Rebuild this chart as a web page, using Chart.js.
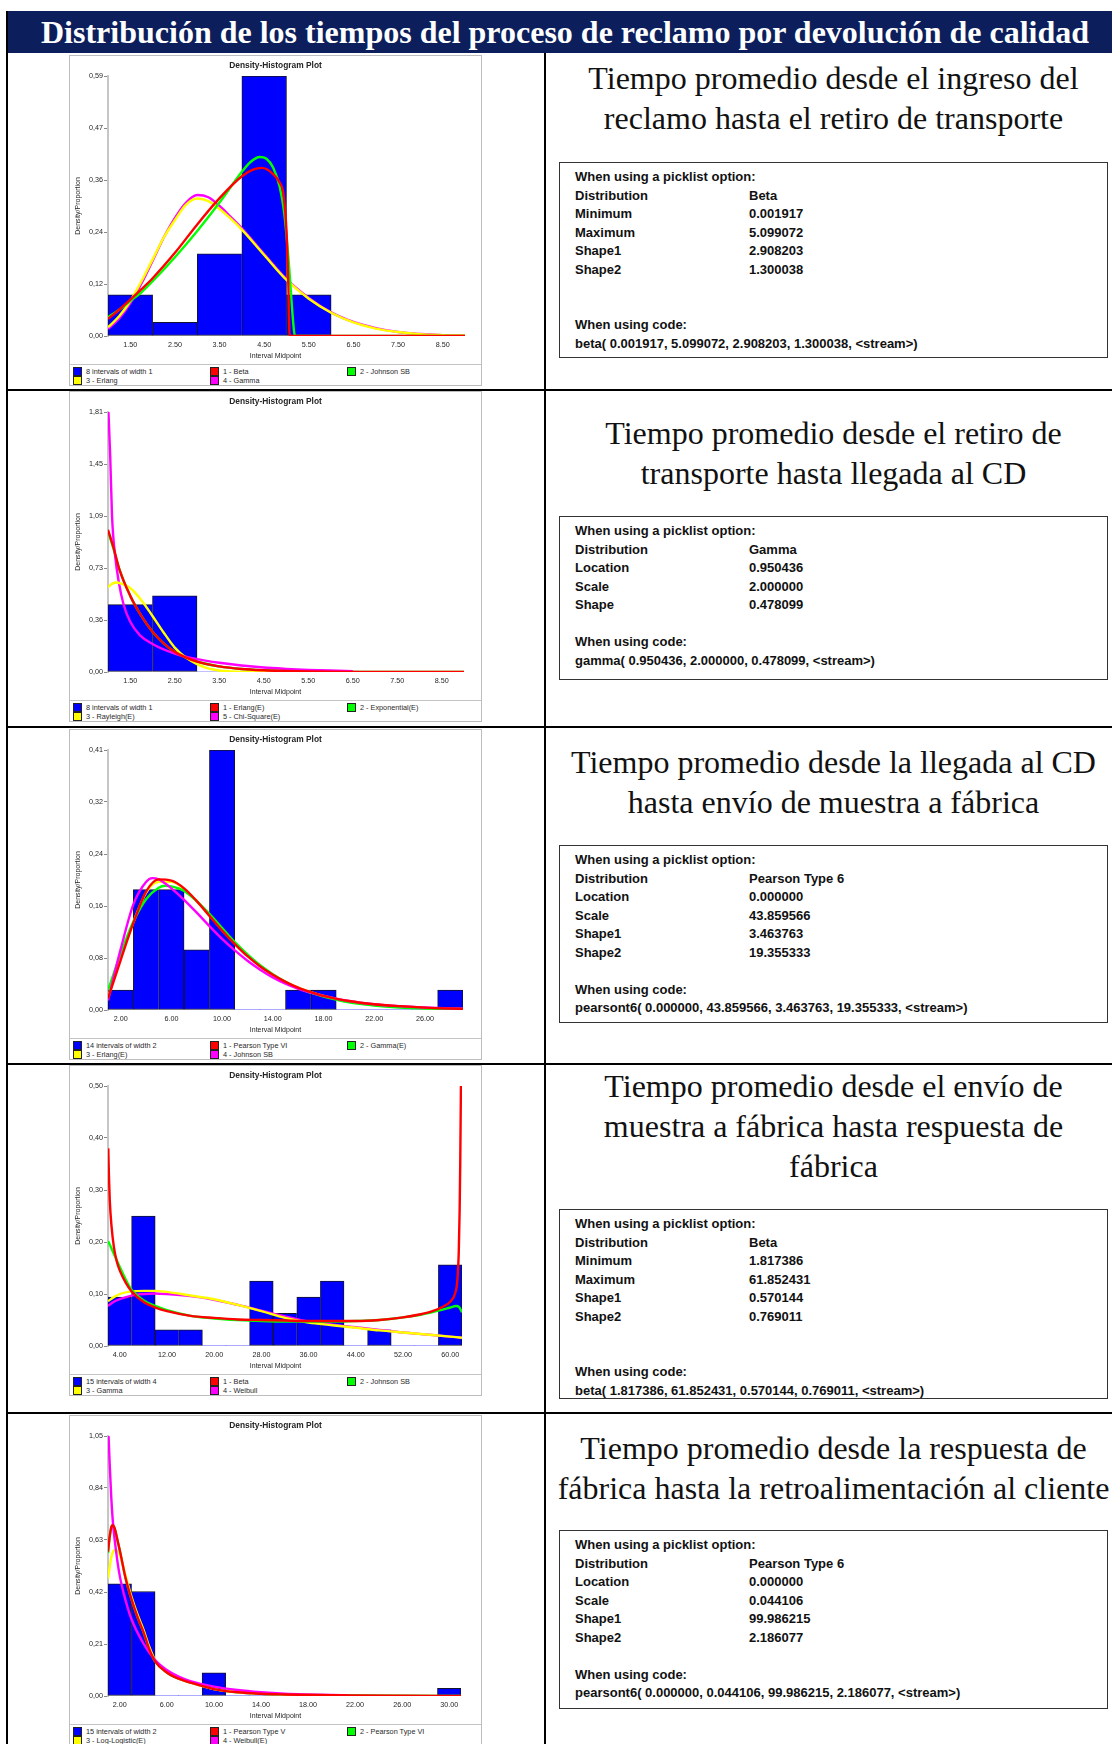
<!DOCTYPE html>
<html lang="es">
<head>
<meta charset="utf-8">
<title>Distribución de los tiempos del proceso de reclamo por devolución de calidad</title>
<script src="https://cdn.jsdelivr.net/npm/chart.js@4.4.1/dist/chart.umd.min.js"></script>
<style>
  html, body { margin: 0; padding: 0; background: #fff; }
  #page { position: relative; width: 1112px; height: 1744px; overflow: hidden; background: #fff;
          font-family: 'Liberation Sans', Arial, sans-serif; }
  .hdr { position: absolute; left: 6px; top: 11px; width: 1118px; height: 42px; background: #0c1f5c;
         color: #fff; font: bold 32px/42px 'Liberation Serif', 'Times New Roman', serif;
         text-align: center; white-space: nowrap; }
  .rule { position: absolute; background: #000; }
  .panel { position: absolute; left: 69px; width: 411px; height: 329px; border: 1px solid #bdbdbd; background: #fff; }
  .panel canvas { position: absolute; left: 0; top: 0; }
  .leg { position: absolute; left: 0; top: 308px; width: 411px; height: 22px; border-top: 1px solid #c4c4c4;
         font: 7.3px 'Liberation Sans', Arial, sans-serif; color: #2a2a2a; }
  .item { position: absolute; height: 9px; line-height: 9px; white-space: nowrap; }
  .sw { position: absolute; left: 0; top: 0; width: 7px; height: 7px; border: 1px solid #222; }
  .item .t { position: absolute; left: 13px; top: 0; }
  .ttl { position: absolute; left: 547px; width: 573px; text-align: center; color: #111;
         font: 32px/40px 'Liberation Serif', 'Times New Roman', serif; white-space: nowrap; }
  .box { position: absolute; left: 559px; width: 549px; box-sizing: border-box; border: 1px solid #333;
         padding: 5px 0 0 15px; color: #111; font: bold 13px/18.5px 'Liberation Sans', Arial, sans-serif;
         white-space: nowrap; }
  .box .k { display: inline-block; width: 174px; }
</style>
</head>
<body>
<div id="page">
  <div class="hdr">Distribución de los tiempos del proceso de reclamo por devolución de calidad</div>

  <!-- table rules -->
  <div class="rule" style="left:6px;top:11px;width:2px;height:1733px"></div>
  <div class="rule" style="left:544px;top:53px;width:2px;height:1691px"></div>
  <div class="rule" style="left:6px;top:389px;width:1106px;height:2px"></div>
  <div class="rule" style="left:6px;top:726px;width:1106px;height:2px"></div>
  <div class="rule" style="left:6px;top:1063px;width:1106px;height:2px"></div>
  <div class="rule" style="left:6px;top:1412px;width:1106px;height:2px"></div>

  <!-- histogram panels -->
  <div class="panel" style="top:55px"><canvas id="c1" width="411" height="308"></canvas><div class="leg" id="l1"></div></div>
  <div class="panel" style="top:391px"><canvas id="c2" width="411" height="308"></canvas><div class="leg" id="l2"></div></div>
  <div class="panel" style="top:729px"><canvas id="c3" width="411" height="308"></canvas><div class="leg" id="l3"></div></div>
  <div class="panel" style="top:1065px"><canvas id="c4" width="411" height="308"></canvas><div class="leg" id="l4"></div></div>
  <div class="panel" style="top:1415px"><canvas id="c5" width="411" height="308"></canvas><div class="leg" id="l5"></div></div>

  <!-- stage titles and fitted-distribution summaries -->
  <div class="ttl" style="top:58px">Tiempo promedio desde el ingreso del<br>reclamo hasta el retiro de transporte</div>
  <div class="box" style="top:162px;height:196px">
    <div>When using a picklist option:</div>
    <div><span class="k">Distribution</span>Beta</div>
    <div><span class="k">Minimum</span>0.001917</div>
    <div><span class="k">Maximum</span>5.099072</div>
    <div><span class="k">Shape1</span>2.908203</div>
    <div><span class="k">Shape2</span>1.300038</div>
    <div>&nbsp;</div><div>&nbsp;</div>
    <div>When using code:</div>
    <div>beta( 0.001917, 5.099072, 2.908203, 1.300038, &lt;stream&gt;)</div>
  </div>

  <div class="ttl" style="top:413px">Tiempo promedio desde el retiro de<br>transporte hasta llegada al CD</div>
  <div class="box" style="top:516px;height:164px">
    <div>When using a picklist option:</div>
    <div><span class="k">Distribution</span>Gamma</div>
    <div><span class="k">Location</span>0.950436</div>
    <div><span class="k">Scale</span>2.000000</div>
    <div><span class="k">Shape</span>0.478099</div>
    <div>&nbsp;</div>
    <div>When using code:</div>
    <div>gamma( 0.950436, 2.000000, 0.478099, &lt;stream&gt;)</div>
  </div>

  <div class="ttl" style="top:742px">Tiempo promedio desde la llegada al CD<br>hasta envío de muestra a fábrica</div>
  <div class="box" style="top:845px;height:178px">
    <div>When using a picklist option:</div>
    <div><span class="k">Distribution</span>Pearson Type 6</div>
    <div><span class="k">Location</span>0.000000</div>
    <div><span class="k">Scale</span>43.859566</div>
    <div><span class="k">Shape1</span>3.463763</div>
    <div><span class="k">Shape2</span>19.355333</div>
    <div>&nbsp;</div>
    <div>When using code:</div>
    <div>pearsont6( 0.000000, 43.859566, 3.463763, 19.355333, &lt;stream&gt;)</div>
  </div>

  <div class="ttl" style="top:1066px">Tiempo promedio desde el envío de<br>muestra a fábrica hasta respuesta de<br>fábrica</div>
  <div class="box" style="top:1209px;height:190px">
    <div>When using a picklist option:</div>
    <div><span class="k">Distribution</span>Beta</div>
    <div><span class="k">Minimum</span>1.817386</div>
    <div><span class="k">Maximum</span>61.852431</div>
    <div><span class="k">Shape1</span>0.570144</div>
    <div><span class="k">Shape2</span>0.769011</div>
    <div>&nbsp;</div><div>&nbsp;</div>
    <div>When using code:</div>
    <div>beta( 1.817386, 61.852431, 0.570144, 0.769011, &lt;stream&gt;)</div>
  </div>

  <div class="ttl" style="top:1428px">Tiempo promedio desde la respuesta de<br>fábrica hasta la retroalimentación al cliente</div>
  <div class="box" style="top:1530px;height:179px">
    <div>When using a picklist option:</div>
    <div><span class="k">Distribution</span>Pearson Type 6</div>
    <div><span class="k">Location</span>0.000000</div>
    <div><span class="k">Scale</span>0.044106</div>
    <div><span class="k">Shape1</span>99.986215</div>
    <div><span class="k">Shape2</span>2.186077</div>
    <div>&nbsp;</div>
    <div>When using code:</div>
    <div>pearsont6( 0.000000, 0.044106, 99.986215, 2.186077, &lt;stream&gt;)</div>
  </div>
</div>

<script>
// ---------- Stage 1: ingreso del reclamo -> retiro de transporte ----------
const mid1 = [1.5, 2.5, 3.5, 4.5, 5.5, 6.5, 7.5, 8.5];
const bars1 = [0.094, 0.031, 0.188, 0.594, 0.094, 0, 0, 0];
const xTicks1 = [1.5, 2.5, 3.5, 4.5, 5.5, 6.5, 7.5, 8.5];
const xLabels1 = ['1.50', '2.50', '3.50', '4.50', '5.50', '6.50', '7.50', '8.50'];
const yLabels1 = ['0,00', '0,12', '0,24', '0,36', '0,47', '0,59'];
const legend1 = ['8 intervals of width 1', '1 - Beta', '2 - Johnson SB', '3 - Erlang', '4 - Gamma'];
const beta1 = [[1,0.039],[1.25,0.06],[1.5,0.083],[1.75,0.107],[2,0.132],[2.5,0.19],[3,0.255],[3.5,0.315],[4,0.365],[4.25,0.38],[4.45,0.384],[4.7,0.37],[4.85,0.35],[4.93,0.325],[5.0,0.24],[5.04,0.12],[5.07,0],[6,0],[9,0]];
const johnson1 = [[1,0.043],[1.25,0.06],[1.5,0.08],[1.75,0.1],[2,0.125],[2.5,0.18],[3,0.24],[3.5,0.305],[4,0.375],[4.2,0.398],[4.4,0.409],[4.55,0.405],[4.7,0.385],[4.85,0.34],[4.95,0.28],[5.05,0.17],[5.12,0.07],[5.17,0.01],[5.2,0],[9,0]];
const erlang1 = [[1,0.02],[1.25,0.045],[1.5,0.08],[1.75,0.125],[2,0.175],[2.25,0.225],[2.5,0.265],[2.75,0.3],[3,0.314],[3.25,0.308],[3.5,0.29],[3.75,0.268],[4,0.243],[4.5,0.185],[5,0.128],[5.5,0.085],[6,0.053],[6.5,0.031],[7,0.017],[7.5,0.009],[8,0.004],[8.5,0.002],[9,0.001]];
const gamma1 = [[1,0.016],[1.25,0.04],[1.5,0.075],[1.75,0.12],[2,0.172],[2.25,0.225],[2.5,0.27],[2.75,0.305],[3,0.322],[3.25,0.317],[3.5,0.297],[3.75,0.272],[4,0.246],[4.5,0.187],[5,0.13],[5.5,0.087],[6,0.054],[6.5,0.032],[7,0.018],[7.5,0.009],[8,0.0045],[8.5,0.002],[9,0.001]];

// ---------- Stage 2: retiro de transporte -> llegada al CD ----------
const mid2 = [1.5, 2.5, 3.5, 4.5, 5.5, 6.5, 7.5, 8.5];
const bars2 = [0.469, 0.531, 0, 0, 0, 0, 0, 0];
const xTicks2 = [1.5, 2.5, 3.5, 4.5, 5.5, 6.5, 7.5, 8.5];
const xLabels2 = ['1.50', '2.50', '3.50', '4.50', '5.50', '6.50', '7.50', '8.50'];
const yLabels2 = ['0,00', '0,36', '0,73', '1,09', '1,45', '1,81'];
const legend2 = ['8 intervals of width 1', '1 - Erlang(E)', '2 - Exponential(E)', '3 - Rayleigh(E)', '5 - Chi-Square(E)'];
const erlang2 = [[1,0.99],[1.13,0.86],[1.25,0.72],[1.5,0.53],[1.75,0.39],[2,0.28],[2.25,0.2],[2.5,0.14],[3,0.072],[3.5,0.039],[4,0.021],[4.5,0.012],[5,0.007],[5.5,0.004],[6,0.002],[7,0.001],[8,0.0005],[9,0.0002]];
const expo2 = [[1,0.98],[1.13,0.85],[1.25,0.72],[1.5,0.53],[1.75,0.39],[2,0.28],[2.25,0.2],[2.5,0.14],[3,0.073],[3.5,0.039],[4,0.021],[4.5,0.012],[5,0.007],[5.5,0.004],[6,0.002],[7,0.001],[8,0.0005],[9,0.0002]];
const rayleigh2 = [[1,0.59],[1.1,0.615],[1.2,0.623],[1.3,0.615],[1.5,0.585],[1.75,0.5],[2,0.39],[2.25,0.275],[2.5,0.17],[2.75,0.1],[3,0.055],[3.25,0.025],[3.5,0.01],[3.75,0.004],[4,0.001],[5,0]];
const chisq2 = [[1.01,1.81],[1.05,1.5],[1.09,1.09],[1.16,0.81],[1.24,0.63],[1.35,0.47],[1.5,0.35],[1.72,0.255],[2,0.195],[2.5,0.128],[3,0.09],[3.5,0.064],[4,0.045],[4.5,0.031],[5,0.022],[5.5,0.015],[6,0.01],[6.5,0.006]];

// ---------- Stage 3: llegada al CD -> envío de muestra a fábrica ----------
const mid3 = [2, 4, 6, 8, 10, 12, 14, 16, 18, 20, 22, 24, 26, 28];
const bars3 = [0.031, 0.188, 0.188, 0.094, 0.406, 0, 0, 0.031, 0.031, 0, 0, 0, 0, 0.031];
const xTicks3 = [2, 6, 10, 14, 18, 22, 26];
const xLabels3 = ['2.00', '6.00', '10.00', '14.00', '18.00', '22.00', '26.00'];
const yLabels3 = ['0,00', '0,08', '0,16', '0,24', '0,32', '0,41'];
const legend3 = ['14 intervals of width 2', '1 - Pearson Type VI', '2 - Gamma(E)', '3 - Erlang(E)', '4 - Johnson SB'];
const pearson3 = [[1,0.018],[2,0.078],[3,0.136],[4,0.185],[5,0.204],[6,0.202],[7,0.19],[8,0.17],[9,0.147],[10,0.124],[11,0.103],[12,0.084],[13,0.068],[14,0.055],[15,0.044],[16,0.035],[17,0.028],[18,0.022],[20,0.014],[22,0.009],[24,0.006],[26,0.0037],[28,0.0023],[29,0.0018]];
const gamma3 = [[1,0.031],[2,0.088],[3,0.138],[4,0.173],[5,0.191],[5.5,0.194],[6,0.193],[7,0.186],[8,0.17],[9,0.15],[10,0.128],[11,0.106],[12,0.087],[13,0.07],[14,0.056],[15,0.044],[16,0.034],[17,0.027],[18,0.021],[20,0.012],[22,0.007],[24,0.004],[26,0.0023],[28,0.0013],[29,0.001]];
const erlang3 = [[1,0.02],[2,0.08],[3,0.137],[4,0.183],[5,0.2],[6,0.2],[7,0.189],[8,0.17],[9,0.148],[10,0.125],[11,0.104],[12,0.085],[13,0.069],[14,0.055],[15,0.044],[16,0.035],[17,0.028],[18,0.022],[20,0.013],[22,0.008],[24,0.005],[26,0.003],[28,0.002],[29,0.0015]];
const johnson3 = [[1,0.015],[2,0.095],[3,0.165],[4,0.2],[4.5,0.206],[5,0.204],[6,0.19],[7,0.172],[8,0.152],[9,0.131],[10,0.111],[11,0.093],[12,0.077],[13,0.063],[14,0.051],[15,0.041],[16,0.033],[17,0.027],[18,0.022],[20,0.014],[22,0.009],[24,0.006],[26,0.004],[28,0.0025],[29,0.002]];

// ---------- Stage 4: envío de muestra -> respuesta de fábrica ----------
const mid4 = [4, 8, 12, 16, 20, 24, 28, 32, 36, 40, 44, 48, 52, 56, 60];
const bars4 = [0.094, 0.25, 0.031, 0.031, 0, 0, 0.125, 0.063, 0.094, 0.125, 0, 0.031, 0, 0, 0.156];
const xTicks4 = [4, 12, 20, 28, 36, 44, 52, 60];
const xLabels4 = ['4.00', '12.00', '20.00', '28.00', '36.00', '44.00', '52.00', '60.00'];
const yLabels4 = ['0,00', '0,10', '0,20', '0,30', '0,40', '0,50'];
const legend4 = ['15 intervals of width 4', '1 - Beta', '2 - Johnson SB', '3 - Gamma', '4 - Weibull'];
const beta4 = [[2.05,0.38],[2.15,0.33],[2.3,0.28],[2.6,0.23],[3,0.19],[3.5,0.162],[4,0.145],[5,0.122],[6,0.105],[8,0.085],[10,0.074],[12,0.067],[16,0.058],[20,0.054],[24,0.051],[28,0.05],[32,0.049],[36,0.048],[40,0.048],[44,0.048],[48,0.05],[52,0.055],[55,0.061],[57,0.067],[59,0.077],[60,0.085],[60.8,0.1],[61.2,0.125],[61.45,0.18],[61.6,0.26],[61.7,0.35],[61.78,0.45],[61.82,0.5]];
const johnson4 = [[2,0.202],[2.5,0.19],[3,0.177],[4,0.152],[5,0.128],[6,0.108],[8,0.088],[10,0.077],[12,0.069],[16,0.058],[20,0.053],[24,0.05],[28,0.048],[32,0.047],[36,0.047],[40,0.047],[44,0.048],[48,0.05],[52,0.055],[55,0.06],[58,0.068],[60,0.074],[61,0.077],[61.5,0.075],[62,0.065]];
const gamma4 = [[2,0.086],[3,0.094],[4,0.1],[6,0.105],[8,0.106],[10,0.106],[12,0.104],[16,0.097],[20,0.09],[24,0.079],[28,0.067],[32,0.054],[36,0.045],[40,0.04],[44,0.035],[48,0.03],[52,0.026],[56,0.022],[60,0.018],[62,0.016]];
const weibull4 = [[2,0.077],[3,0.085],[4,0.09],[6,0.097],[8,0.1],[10,0.101],[12,0.1],[16,0.096],[20,0.089],[24,0.079],[28,0.068],[32,0.057],[36,0.047],[40,0.041],[44,0.036],[48,0.031],[52,0.026],[56,0.022],[60,0.018],[62,0.016]];

// ---------- Stage 5: respuesta de fábrica -> retroalimentación al cliente ----------
const mid5 = [2, 4, 6, 8, 10, 12, 14, 16, 18, 20, 22, 24, 26, 28, 30];
const bars5 = [0.453, 0.422, 0, 0, 0.094, 0, 0, 0, 0, 0, 0, 0, 0, 0, 0.031];
const xTicks5 = [2, 6, 10, 14, 18, 22, 26, 30];
const xLabels5 = ['2.00', '6.00', '10.00', '14.00', '18.00', '22.00', '26.00', '30.00'];
const yLabels5 = ['0,00', '0,21', '0,42', '0,63', '0,84', '1,05'];
const legend5 = ['15 intervals of width 2', '1 - Pearson Type V', '2 - Pearson Type VI', '3 - Log-Logistic(E)', '4 - Weibull(E)'];
const pearsonV5 = [[1,0.583],[1.14,0.643],[1.3,0.685],[1.4,0.69],[1.57,0.677],[1.8,0.63],[2,0.589],[2.5,0.475],[3,0.39],[3.5,0.32],[4,0.26],[4.5,0.19],[5,0.14],[6,0.095],[7,0.07],[8,0.054],[10,0.028],[12,0.015],[14,0.009],[16,0.006],[18,0.004],[22,0.0018],[26,0.001],[31,0.0005]];
const pearsonVI5 = [[1,0.578],[1.14,0.64],[1.3,0.683],[1.4,0.689],[1.57,0.676],[1.8,0.63],[2,0.588],[2.5,0.475],[3,0.39],[3.5,0.32],[4,0.26],[4.5,0.19],[5,0.14],[6,0.095],[7,0.07],[8,0.054],[10,0.028],[12,0.015],[14,0.009],[16,0.006],[18,0.004],[22,0.0018],[26,0.001],[31,0.0005]];
const loglog5 = [[1,0.475],[1.14,0.52],[1.28,0.56],[1.45,0.585],[1.6,0.59],[1.8,0.585],[2,0.57],[2.5,0.485],[3,0.4],[3.5,0.33],[4,0.27],[4.5,0.2],[5,0.145],[6,0.1],[7,0.072],[8,0.055],[10,0.028],[12,0.016],[14,0.01],[16,0.007],[18,0.005],[20.4,0.003]];
const weibull5 = [[1.04,1.06],[1.14,0.94],[1.28,0.8],[1.42,0.7],[1.71,0.576],[2,0.485],[2.5,0.385],[3,0.31],[4,0.213],[5,0.145],[6,0.105],[7,0.078],[8,0.06],[10,0.038],[12,0.024],[14,0.015],[16,0.009],[18,0.006],[20,0.004],[21.3,0.003]];

// ---------- drawing ----------
const FONT = "'Liberation Sans', Arial, sans-serif";
const INK = '#262626';
const BLUE = '#0000ff', RED = '#ff0000', GREEN = '#00ff00', YELLOW = '#ffff00', MAGENTA = '#ff00ff';

Chart.defaults.font.family = FONT;
Chart.defaults.color = INK;

// plot title and "Interval Midpoint" are centred on the whole panel, not on the plot area
const panelTexts = {
  id: 'panelTexts',
  afterDraw(chart, args, opts) {
    const { ctx, chartArea } = chart;
    ctx.save();
    ctx.fillStyle = INK;
    ctx.textAlign = 'center';
    ctx.textBaseline = 'middle';
    ctx.font = 'bold 8.4px ' + FONT;
    ctx.fillText(opts.title, chart.width / 2, 9.5);
    ctx.font = '7px ' + FONT;
    ctx.fillText(opts.xTitle, chart.width / 2, chartArea.bottom + 20);
    ctx.restore();
  }
};

function histogram(id, o) {
  const datasets = [{
    type: 'bar',
    label: o.legend[0],
    data: o.mids.map((m, i) => ({ x: m, y: o.bars[i] })),
    backgroundColor: BLUE,
    borderColor: '#14142a',
    borderWidth: ctx => {
      const i = ctx.dataIndex, b = o.bars;
      if (i === undefined || !(b[i] > 0)) return 0;
      const next = i + 1 < b.length ? b[i + 1] : 0;
      return { top: 1, left: 1, bottom: 1, right: next < b[i] ? 1 : 0 };
    },
    borderSkipped: false,
    barPercentage: 1,
    categoryPercentage: 1,
    order: 10
  }];
  o.curves.forEach(c => datasets.push({
    type: 'line',
    label: c.label,
    data: c.pts.map(p => ({ x: p[0], y: p[1] })),
    borderColor: c.color,
    borderWidth: 2.4,
    pointRadius: 0,
    fill: false,
    cubicInterpolationMode: 'monotone',
    order: c.order
  }));

  new Chart(document.getElementById(id), {
    type: 'bar',
    data: { datasets },
    plugins: [panelTexts],
    options: {
      responsive: false,
      animation: false,
      devicePixelRatio: 1,
      layout: { padding: { left: 0, right: o.rightPad, top: 20, bottom: 0 } },
      plugins: {
        legend: { display: false },
        tooltip: { enabled: false },
        title: { display: false },
        panelTexts: { title: 'Density-Histogram Plot', xTitle: 'Interval Midpoint' }
      },
      scales: {
        x: {
          type: 'linear', min: o.xMin, max: o.xMax, offset: false,
          afterBuildTicks: s => { s.ticks = o.xTicks.map(v => ({ value: v })); },
          ticks: { autoSkip: false, maxRotation: 0, padding: 5, color: INK, font: { family: FONT, size: 7.2 },
                   callback: (v, i) => o.xLabels[i] },
          grid: { display: false, drawTicks: false },
          border: { display: false },
          title: { display: false },
          afterFit: s => { s.height = 28; }
        },
        y: {
          min: 0, max: o.yMax,
          afterBuildTicks: s => { s.ticks = o.yLabels.map((_, i) => ({ value: o.yMax * i / 5 })); },
          ticks: { autoSkip: false, padding: 1, color: INK, font: { family: FONT, size: 7.2 },
                   callback: (v, i) => o.yLabels[i] },
          grid: { drawOnChartArea: false, drawTicks: true, tickLength: 4, color: '#888' },
          border: { display: true, color: '#c6c6c6', width: 2 },
          title: { display: true, text: 'Density/Proportion', color: INK, font: { family: FONT, size: 7 },
                   padding: { top: 4, bottom: 0 } },
          afterFit: s => { s.width = 38; }
        }
      }
    }
  });

  // legend strip under the plot: three fixed columns, two rows
  const leg = document.getElementById(o.legendId);
  const colours = [BLUE].concat(o.legendColours);
  const slots = [[3, 2], [140, 2], [277, 2], [3, 11], [140, 11]];
  o.legend.forEach((text, i) => {
    const it = document.createElement('div');
    it.className = 'item';
    it.style.left = slots[i][0] + 'px';
    it.style.top = slots[i][1] + 'px';
    it.innerHTML = '<span class="sw" style="background:' + colours[i] + '"></span><span class="t"></span>';
    it.querySelector('.t').textContent = text;
    leg.appendChild(it);
  });
}

histogram('c1', {
  mids: mid1, bars: bars1, xMin: 1, xMax: 9, xTicks: xTicks1, xLabels: xLabels1,
  yMax: 0.594, yLabels: yLabels1, rightPad: 16, legend: legend1, legendId: 'l1',
  legendColours: [RED, GREEN, YELLOW, MAGENTA],
  curves: [
    { label: legend1[1], pts: beta1, color: RED, order: 1 },
    { label: legend1[2], pts: johnson1, color: GREEN, order: 2 },
    { label: legend1[3], pts: erlang1, color: YELLOW, order: 3 },
    { label: legend1[4], pts: gamma1, color: MAGENTA, order: 4 }
  ]
});

histogram('c2', {
  mids: mid2, bars: bars2, xMin: 1, xMax: 9, xTicks: xTicks2, xLabels: xLabels2,
  yMax: 1.81, yLabels: yLabels2, rightPad: 17, legend: legend2, legendId: 'l2',
  legendColours: [RED, GREEN, YELLOW, MAGENTA],
  curves: [
    { label: legend2[1], pts: erlang2, color: RED, order: 1 },
    { label: legend2[2], pts: expo2, color: GREEN, order: 4 },
    { label: legend2[3], pts: rayleigh2, color: YELLOW, order: 2 },
    { label: legend2[4], pts: chisq2, color: MAGENTA, order: 3 }
  ]
});

histogram('c3', {
  mids: mid3, bars: bars3, xMin: 1, xMax: 29, xTicks: xTicks3, xLabels: xLabels3,
  yMax: 0.406, yLabels: yLabels3, rightPad: 18, legend: legend3, legendId: 'l3',
  legendColours: [RED, GREEN, YELLOW, MAGENTA],
  curves: [
    { label: legend3[1], pts: pearson3, color: RED, order: 1 },
    { label: legend3[2], pts: gamma3, color: GREEN, order: 3 },
    { label: legend3[3], pts: erlang3, color: YELLOW, order: 4 },
    { label: legend3[4], pts: johnson3, color: MAGENTA, order: 2 }
  ]
});

histogram('c4', {
  mids: mid4, bars: bars4, xMin: 2, xMax: 62, xTicks: xTicks4, xLabels: xLabels4,
  yMax: 0.5, yLabels: yLabels4, rightPad: 19, legend: legend4, legendId: 'l4',
  legendColours: [RED, GREEN, YELLOW, MAGENTA],
  curves: [
    { label: legend4[1], pts: beta4, color: RED, order: 1 },
    { label: legend4[2], pts: johnson4, color: GREEN, order: 2 },
    { label: legend4[3], pts: gamma4, color: YELLOW, order: 3 },
    { label: legend4[4], pts: weibull4, color: MAGENTA, order: 4 }
  ]
});

histogram('c5', {
  mids: mid5, bars: bars5, xMin: 1, xMax: 31, xTicks: xTicks5, xLabels: xLabels5,
  yMax: 1.05, yLabels: yLabels5, rightPad: 20, legend: legend5, legendId: 'l5',
  legendColours: [RED, GREEN, YELLOW, MAGENTA],
  curves: [
    { label: legend5[1], pts: pearsonV5, color: RED, order: 1 },
    { label: legend5[2], pts: pearsonVI5, color: GREEN, order: 4 },
    { label: legend5[3], pts: loglog5, color: YELLOW, order: 3 },
    { label: legend5[4], pts: weibull5, color: MAGENTA, order: 2 }
  ]
});
</script>
</body>
</html>
